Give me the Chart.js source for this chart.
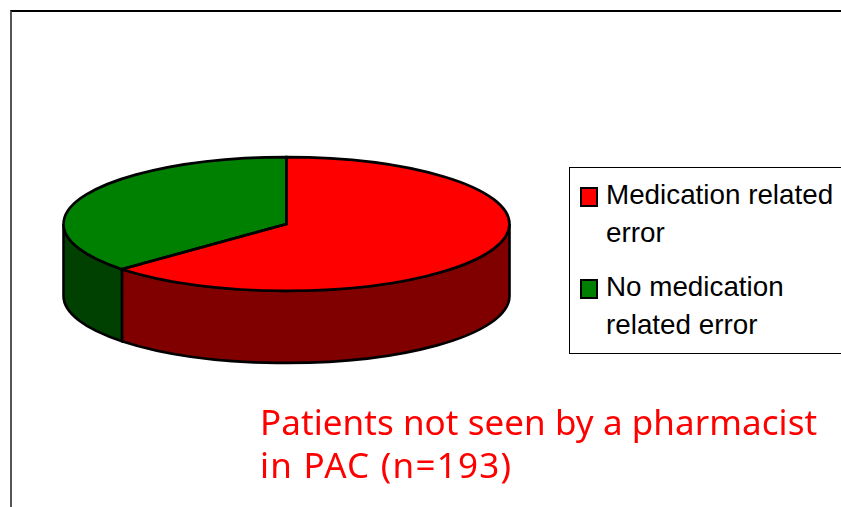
<!DOCTYPE html>
<html>
<head>
<meta charset="utf-8">
<style>
  html, body { margin: 0; padding: 0; background: #fff; overflow: hidden; }
  #wrap { position: relative; width: 841px; height: 507px; }
  #pieChart { position: absolute; left: 0; top: 0; }
  #frame { position: absolute; left: 10px; top: 10px; right: -4px; bottom: -4px; border-top: 2px solid #000; border-left: 2px solid #555; }
  #legend { position: absolute; left: 569px; top: 167px; width: 280px; height: 185px; border: 1px solid #000; background: #fff;
            font-family: "Liberation Sans", Arial, sans-serif; font-size: 27.8px; line-height: 38px; color: #000; }
  .item { position: absolute; left: 36px; white-space: nowrap; }
  .swatch { position: absolute; left: -26px; top: 11px; width: 14px; height: 16px; border: 2px solid #000; }
  #note { position: absolute; left: 260px; top: 400px; font-family: "Noto Sans", sans-serif; font-size: 35px; line-height: 43px; color: #f00; white-space: nowrap; }
  #note div:first-child { letter-spacing: 0.06px; }
  #note div:last-child { letter-spacing: 1.25px; }
</style>
</head>
<body>
<div id="wrap">
  <div id="frame"></div>
  <canvas id="pieChart" width="841" height="507"></canvas>
  <div id="legend"></div>
  <div id="note"></div>
</div>
<script src="https://cdn.jsdelivr.net/npm/chart.js@4"></script>
<script>
// Data
const categories = ['Medication related error', 'No medication related error'];
const legendLines = [['Medication related', 'error'], ['No medication', 'related error']];
const patientCounts = [122, 71];
const topColors = ['#ff0000', '#008000'];
const wallColors = ['#800000', '#004000'];
const noteLines = ['Patients not seen by a pharmacist', 'in PAC (n=193)'];

// Flattening of the pie and height of the wall
const tilt = 0.3;
const depth = 72;
const outline = 2.6;

// 3D look: squash the pie, draw the wall below it, outline everything
const pie3d = {
    id: 'pie3d',
    beforeDatasetsDraw(chart) {
        const ctx = chart.ctx;
        chart.getDatasetMeta(0).data.forEach((arc, i) => {
            const s = Math.max(arc.startAngle, 0);
            const e = Math.min(arc.endAngle, Math.PI);
            if (e <= s) return;
            const rx = arc.outerRadius;
            const ry = rx * tilt;
            ctx.beginPath();
            ctx.ellipse(arc.x, arc.y, rx, ry, 0, s, e);
            ctx.ellipse(arc.x, arc.y + depth, rx, ry, 0, e, s, true);
            ctx.closePath();
            ctx.fillStyle = wallColors[i];
            ctx.fill();
            ctx.lineWidth = outline;
            ctx.strokeStyle = '#000';
            ctx.stroke();
        });
        const first = chart.getDatasetMeta(0).data[0];
        ctx.save();
        ctx.translate(first.x, first.y);
        ctx.scale(1, tilt);
        ctx.translate(-first.x, -first.y);
    },
    afterDatasetsDraw(chart) {
        const ctx = chart.ctx;
        ctx.restore();
        chart.getDatasetMeta(0).data.forEach((arc) => {
            const rx = arc.outerRadius;
            ctx.beginPath();
            ctx.moveTo(arc.x, arc.y);
            ctx.ellipse(arc.x, arc.y, rx, rx * tilt, 0, arc.startAngle, arc.endAngle);
            ctx.closePath();
            ctx.lineWidth = outline;
            ctx.strokeStyle = '#000';
            ctx.stroke();
        });
    }
};

new Chart(document.getElementById('pieChart').getContext('2d'), {
    type: 'pie',
    data: {
        labels: categories,
        datasets: [{
            data: patientCounts,
            backgroundColor: topColors,
            borderWidth: 0,
            radius: 223
        }]
    },
    options: {
        responsive: false,
        animation: false,
        layout: { padding: { right: 268, bottom: 59 } },
        plugins: {
            legend: { display: false },
            tooltip: { enabled: false }
        }
    },
    plugins: [pie3d]
});

// Legend box
const legendEl = document.getElementById('legend');
legendLines.forEach((lines, i) => {
    const item = document.createElement('div');
    item.className = 'item';
    item.style.top = (i === 0 ? 8 : 100) + 'px';
    const swatch = document.createElement('div');
    swatch.className = 'swatch';
    swatch.style.background = topColors[i];
    item.appendChild(swatch);
    lines.forEach((line) => {
        const row = document.createElement('div');
        row.textContent = line;
        item.appendChild(row);
    });
    legendEl.appendChild(item);
});

// Caption
const noteEl = document.getElementById('note');
noteLines.forEach((line) => {
    const row = document.createElement('div');
    row.textContent = line;
    noteEl.appendChild(row);
});
</script>
</body>
</html>
